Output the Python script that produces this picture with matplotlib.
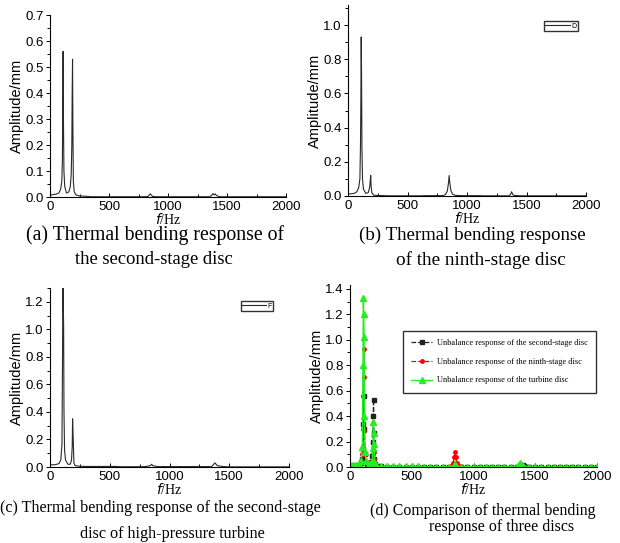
import numpy as np
import matplotlib.pyplot as plt
from matplotlib.ticker import MultipleLocator

# second-stage disc (a)
freq_a = [0, 25, 50, 75, 90, 100, 105, 108, 111, 114, 118, 125, 140, 160, 172, 180, 185, 188,
          191, 194, 198, 205, 220, 250, 300, 350, 400, 450, 500, 550, 600, 650, 700, 750, 800,
          830, 850, 870, 900, 950, 1000, 1050, 1100, 1150, 1200, 1250, 1300, 1350, 1370, 1380,
          1390, 1400, 1410, 1430, 1450, 1500, 1550, 1600, 1650, 1700, 1750, 1800, 1850, 1900,
          1950, 2000]
amp_a = [0.008, 0.009, 0.011, 0.015, 0.03, 0.06, 0.14, 0.34, 0.56, 0.3, 0.1, 0.04, 0.015, 0.02,
         0.04, 0.09, 0.2, 0.4, 0.53, 0.27, 0.06, 0.02, 0.008, 0.004, 0.003, 0.001, 0.001, 0.001,
         0.001, 0.001, 0.001, 0.001, 0.001, 0.001, 0.001, 0.002, 0.012, 0.002, 0.001, 0.001,
         0.001, 0.001, 0.001, 0.001, 0.001, 0.001, 0.001, 0.001, 0.006, 0.013, 0.008, 0.012,
         0.006, 0.002, 0.001, 0.001, 0.001, 0.001, 0.001, 0.001, 0.001, 0.001, 0.001, 0.001,
         0.001, 0.001]

# ninth-stage disc (b)
freq_b = [0, 25, 50, 75, 90, 100, 105, 108, 111, 114, 117, 122, 130, 150, 170, 182, 188, 191,
          194, 200, 215, 250, 300, 350, 400, 450, 500, 550, 600, 650, 700, 750, 800, 820, 835,
          845, 850, 855, 865, 880, 900, 950, 1000, 1050, 1100, 1150, 1200, 1250, 1300, 1350,
          1365, 1375, 1385, 1400, 1450, 1500, 1550, 1600, 1650, 1700, 1750, 1800, 1850, 1900,
          1950, 2000]
amp_b = [0.012, 0.013, 0.015, 0.025, 0.05, 0.1, 0.3, 0.56, 0.93, 0.71, 0.28, 0.1, 0.04, 0.015,
         0.02, 0.05, 0.1, 0.12, 0.06, 0.02, 0.005, 0.003, 0.002, 0.001, 0.001, 0.001, 0.001,
         0.001, 0.001, 0.002, 0.002, 0.002, 0.002, 0.01, 0.03, 0.08, 0.12, 0.08, 0.03, 0.01,
         0.004, 0.002, 0.002, 0.002, 0.002, 0.001, 0.001, 0.001, 0.001, 0.001, 0.008, 0.025,
         0.008, 0.003, 0.001, 0.001, 0.001, 0.001, 0.001, 0.001, 0.001, 0.001, 0.001, 0.001,
         0.001, 0.001]

# turbine disc (c)
freq_c = [0, 25, 50, 75, 90, 100, 105, 108, 111, 114, 117, 122, 130, 150, 170, 180, 186, 189,
          192, 195, 200, 210, 250, 300, 350, 400, 450, 500, 550, 600, 650, 700, 750, 800, 840,
          850, 860, 900, 950, 1000, 1050, 1100, 1150, 1200, 1250, 1300, 1350, 1360, 1380, 1400,
          1450, 1500, 1550, 1600, 1650, 1700, 1750, 1800, 1850, 1900, 1950, 2000]
amp_c = [0.015, 0.016, 0.018, 0.025, 0.05, 0.16, 0.8, 1.33, 1.2, 1.02, 0.4, 0.12, 0.05, 0.02,
         0.02, 0.05, 0.15, 0.35, 0.27, 0.18, 0.03, 0.01, 0.005, 0.004, 0.004, 0.004, 0.004,
         0.004, 0.004, 0.002, 0.002, 0.002, 0.002, 0.003, 0.01, 0.02, 0.01, 0.003, 0.003, 0.003,
         0.003, 0.003, 0.003, 0.003, 0.003, 0.003, 0.003, 0.01, 0.03, 0.01, 0.003, 0.001, 0.001,
         0.001, 0.001, 0.001, 0.001, 0.001, 0.001, 0.001, 0.001, 0.001]

legend_d = ['Unbalance response of the second-stage disc',
            'Unbalance response of the ninth-stage disc',
            'Unbalance response of the turbine disc']

captions = [('(a) Thermal bending response of', 'the second-stage disc'),
            ('(b) Thermal bending response', 'of the ninth-stage disc'),
            ('(c) Thermal bending response of the second-stage', 'disc of high-pressure turbine'),
            ('(d) Comparison of thermal bending', 'response of three discs')]

sans = 'Liberation Sans'
serif = 'Liberation Serif'

W, H = 620, 543
fig = plt.figure(figsize=(6.2, 5.43), dpi=100)


def make_ax(l, r, t, b, ymax, ymaj):
    ax = fig.add_axes([l / W, 1 - b / H, (r - l) / W, (b - t) / H])
    ax.set_xlim(0, 2000)
    ax.set_ylim(0, ymax)
    for s in ['top', 'right']:
        ax.spines[s].set_visible(False)
    for s in ['left', 'bottom']:
        ax.spines[s].set_linewidth(0.8)
    ax.xaxis.set_major_locator(MultipleLocator(500))
    ax.xaxis.set_minor_locator(MultipleLocator(250))
    ax.yaxis.set_major_locator(MultipleLocator(ymaj))
    ax.yaxis.set_minor_locator(MultipleLocator(ymaj / 2))
    ax.tick_params(axis='y', which='both', direction='out', labelsize=9.5, width=0.7, pad=1.5)
    ax.tick_params(axis='y', which='major', length=3)
    ax.tick_params(axis='y', which='minor', length=2)
    ax.tick_params(axis='x', which='both', direction='in', labelsize=9.5, width=0.7, pad=3)
    ax.tick_params(axis='x', which='major', length=3)
    ax.tick_params(axis='x', which='minor', length=2)
    for lab in ax.get_xticklabels() + ax.get_yticklabels():
        lab.set_fontfamily(sans)
    ax.set_ylabel('Amplitude/mm', fontfamily=sans, fontsize=10.5, labelpad=1)
    ax.set_xlabel(r'$\mathit{f}$/Hz', fontfamily=serif, fontsize=10, labelpad=-1)
    return ax


line_col = '#2a2a2a'

ax1 = make_ax(50, 286, 15, 197, 0.7, 0.1)
ax1.plot(freq_a, amp_a, color=line_col, lw=0.8)

ax2 = make_ax(348, 586, 5, 196, 1.117, 0.2)
ax2.plot(freq_b, amp_b, color=line_col, lw=0.8, label='D')
ax2.legend(loc='upper right', bbox_to_anchor=(0.965, 0.915), frameon=True,
           fancybox=False, edgecolor='black', handlelength=3.5, handletextpad=0.2,
           borderpad=0.2, borderaxespad=0, prop={'family': sans, 'size': 5})

ax3 = make_ax(50, 289, 288, 467, 1.3, 0.2)
ax3.plot(freq_c, amp_c, color=line_col, lw=0.8, label='F')
ax3.legend(loc='upper right', bbox_to_anchor=(0.935, 0.925), frameon=True,
           fancybox=False, edgecolor='black', handlelength=3.5, handletextpad=0.2,
           borderpad=0.2, borderaxespad=0, prop={'family': sans, 'size': 5})

ax4 = make_ax(350, 597, 285, 467, 1.43, 0.2)
ax4.plot(freq_a, amp_a, color='#222222', lw=0.9, ls='--', marker='s', ms=2.5,
         label=legend_d[0])
ax4.plot(freq_b, amp_b, color='red', lw=0.9, ls='--', marker='o', ms=2.5,
         label=legend_d[1])
ax4.plot(freq_c, amp_c, color='#22ee22', lw=1.0, ls='-', marker='^', ms=4,
         label=legend_d[2])
ax4.legend(loc='upper right', bbox_to_anchor=(0.997, 0.75), frameon=True, fancybox=False,
           edgecolor='black', handlelength=2.5, handletextpad=0.6, borderpad=1.0,
           labelspacing=1.3, borderaxespad=0, prop={'family': serif, 'size': 6})

# captions: (x centre, y, font size) for each line
cap_pos = [((155, 235, 14.2), (154, 259, 13.4)),
           ((472, 235, 13.6), (481, 260, 13.8)),
           ((160, 508, 11.6), (172, 534, 11.6)),
           ((483, 511, 11.4), (502, 527, 11.4))]
for lines, pos in zip(captions, cap_pos):
    for txt, (cx, cy, fs) in zip(lines, pos):
        fig.text(cx / W, 1 - cy / H, txt, ha='center', va='center',
                 fontfamily=serif, fontsize=fs)

fig.savefig('out.png', dpi=100)
